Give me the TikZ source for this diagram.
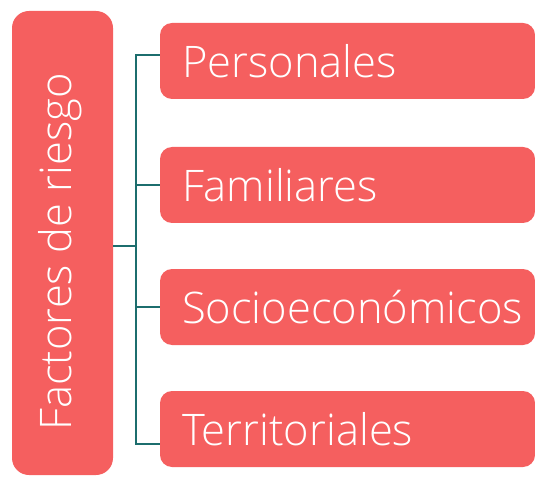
\documentclass[tikz,border=0pt]{standalone}
\usepackage{fontspec}
\setmainfont{Open Sans}[UprightFont=* Light]
\usepackage{tikz}
\usetikzlibrary{positioning,calc}
\definecolor{coral}{HTML}{F55F5F}
\definecolor{teal}{HTML}{1C6D6D}
\tikzset{
    factorbox/.style={fill=coral,rounded corners=12pt,minimum height=76pt,text width=331pt,
        inner xsep=22pt,inner ysep=0pt,align=left,text=white,font=\fontsize{43.5}{48}\selectfont},
    bus/.style={draw=teal,line width=2.2pt}
}

\begin{document}
\begin{tikzpicture}[x=1pt,y=1pt,line cap=butt,line join=miter]

        % --- Frame ---
        \useasboundingbox (0,0) rectangle (535,477);

        % Main box
        \node[fill=coral,rounded corners=17pt,minimum width=101pt,minimum height=464pt,inner sep=0pt] (factores) at (62.5,234) {};
        \node[rotate=90,text=white,font=\fontsize{43.5}{48}\selectfont] (factoreslabel) at (60,225) {Factores de riesgo};

        % Right boxes
        \node[factorbox] (personales) at (347.5,416) {Personales};
        \node[factorbox] (familiares) at (347.5,292) {Familiares};
        \node[factorbox] (socio) at (347.5,170) {Socioecon\'omicos};
        \node[factorbox] (territoriales) at (347.5,48) {Territoriales};

        % --- Connectors ---
        \coordinate (junction) at (136,231);
        \coordinate (bustop) at (136,422);
        \coordinate (busbottom) at (136,33);

        \draw[bus] (factores.east |- junction) -- (junction);
        \draw[bus] (personales.west |- bustop) -- (bustop) -- (busbottom) -- (territoriales.west |- busbottom);
        \draw[bus] (136,292) -- (familiares.west);
        \draw[bus] (136,170) -- (socio.west);

\end{tikzpicture}
\end{document}
